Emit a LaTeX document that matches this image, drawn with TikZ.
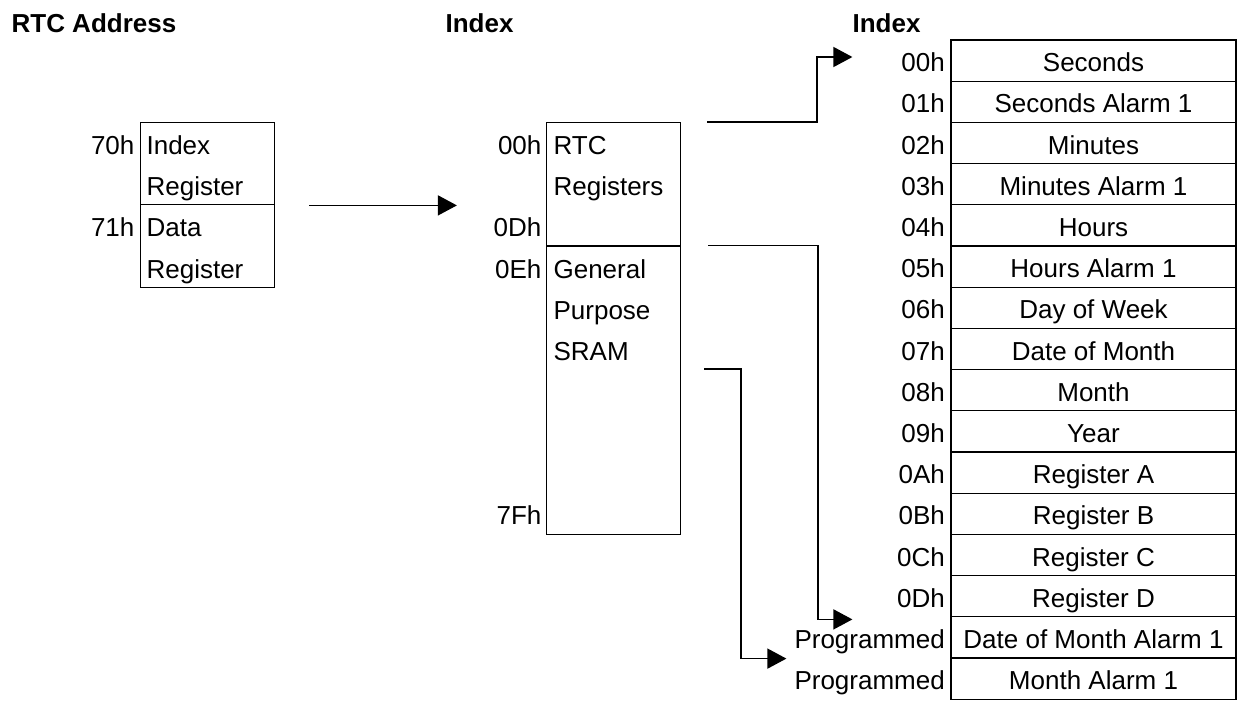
\documentclass[tikz,border=0pt]{standalone}
\usepackage{fontspec}
\setmainfont{Liberation Sans}
\usetikzlibrary{arrows.meta,calc}

\begin{document}
\begin{tikzpicture}[x=0.5pt, y=-0.5pt, line width=0.6pt,
    every node/.style={font=\fontsize{13}{15.6}\selectfont, text height=11pt, text depth=0pt},
    cell/.style={draw, minimum width=142.5pt, minimum height=20.6pt, inner sep=0pt},
    blk/.style={draw, inner sep=0pt, minimum width=67pt},
    idx/.style={anchor=east, inner sep=2.5pt},
    txt/.style={anchor=west, inner sep=3pt},
    head/.style={anchor=base west, inner sep=0pt, font=\fontsize{13}{15.6}\selectfont\bfseries},
    link/.style={line width=0.75pt, -{Triangle[length=9.5pt, width=10pt]}}]

  \useasboundingbox (0,0) rectangle (1238,707);

  % headings
  \node[head] (hAddr) at (11,32) {RTC Address};
  \node[head] (hIdx) at (445,32) {Index};
  \node[head] (hReg) at (852,32) {Index};

  % I/O port pair
  \node[blk, minimum height=41.2pt] (idxreg) at (207.5,163.6) {};
  \node[blk, minimum height=41.2pt] (datreg) at (207.5,246) {};
  \node[idx] (p70) at (140,143.4) {70h};
  \node[idx] (p71) at (140,225.8) {71h};
  \node[txt] (t1) at (140,143.4) {Index};
  \node[txt] (t2) at (140,184.6) {Register};
  \node[txt] (t3) at (140,225.8) {Data};
  \node[txt] (t4) at (140,267) {Register};

  % CMOS map
  \node[blk, minimum height=61.8pt] (rtc) at (613.5,184.2) {};
  \node[blk, minimum height=144.2pt] (sram) at (613.5,390.2) {};
  \node[idx] (m00) at (547,143.4) {00h};
  \node[idx] (m0D) at (547,225.8) {0Dh};
  \node[idx] (m0E) at (547,267) {0Eh};
  \node[idx] (m7F) at (547,513.8) {7Fh};
  \node[txt] (t5) at (547,143.4) {RTC};
  \node[txt] (t6) at (547,184.6) {Registers};
  \node[txt] (t7) at (547,267) {General};
  \node[txt] (t8) at (547,308.2) {Purpose};
  \node[txt] (t9) at (547,349.4) {SRAM};

  % RTC registers
  \foreach \i/\a/\b in {0/00h/Seconds, 1/01h/Seconds Alarm 1, 2/02h/Minutes,
      3/03h/Minutes Alarm 1, 4/04h/Hours, 5/05h/Hours Alarm 1, 6/06h/Day of Week,
      7/07h/Date of Month, 8/08h/Month, 9/09h/Year, 10/0Ah/Register A,
      11/0Bh/Register B, 12/0Ch/Register C, 13/0Dh/Register D,
      14/Programmed/Date of Month Alarm 1, 15/Programmed/Month Alarm 1}
  {
    \node[cell] (r\i) at (1093.5,{60.6+41.2*\i}) {\b};
    \node[idx] (n\i) at (r\i.west) {\a};
  }

  \draw[link] ($(idxreg.south east)+(34,0)$) -- ($(rtc.west |- idxreg.south)+(-89,0)$);
  \draw[link] ($(rtc.north east)+(26,0)$) -- ++(110,0) |- ($(r0.west)+(-98,-3.6)$);
  \draw[link] ($(sram.north east)+(27,0)$) -- ++(110,0) |- ($(r13.south west)+(-98,2)$);
  \draw[link] ($(sram.north east)+(23,123.6)$) -- ++(37,0) |- ($(r14.south west)+(-164,0)$);
\end{tikzpicture}
\end{document}
